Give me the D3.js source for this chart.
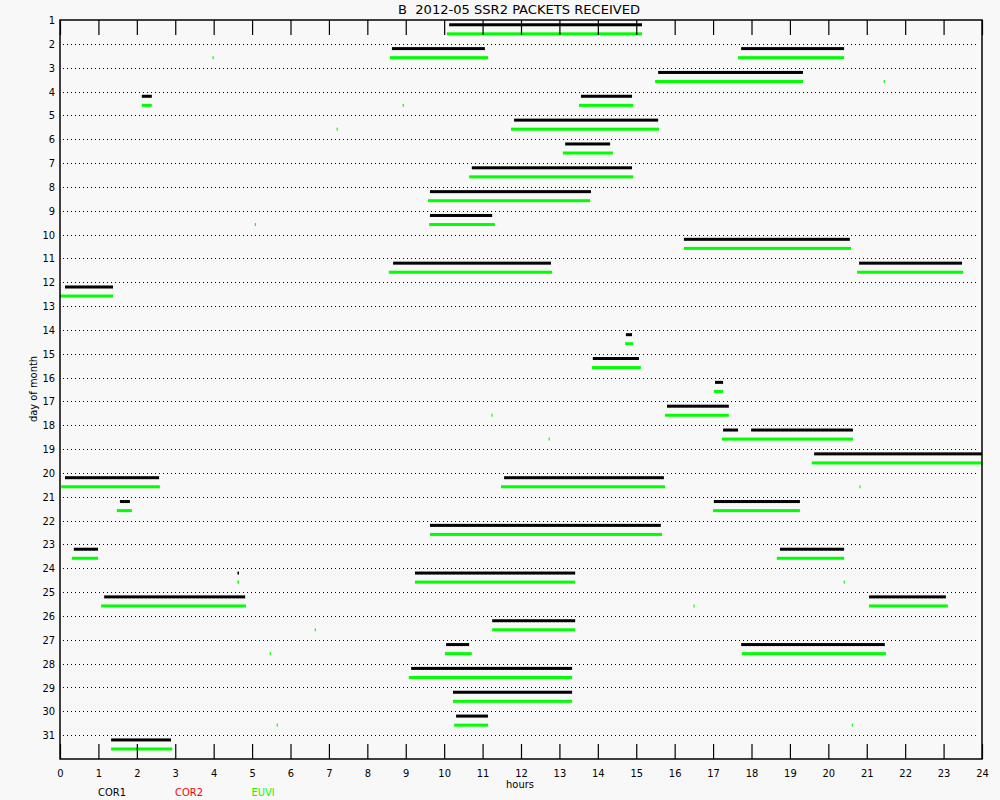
<!DOCTYPE html>
<html>
<head>
<meta charset="utf-8">
<script src="https://cdn.jsdelivr.net/npm/d3@7"></script>
<style>
  html, body { margin: 0; padding: 0; background: #f8f8f8; }
  svg { display: block; }
  text { font-family: "DejaVu Sans Condensed", "DejaVu Sans", sans-serif; fill: #000; }
</style>
</head>
<body>
<svg id="chart" width="1000" height="800"></svg>
<script>
// ---------------- data ----------------
const titleText = "B  2012-05 SSR2 PACKETS RECEIVED";
const dayLabels = d3.range(1, 32);            // 1..31
const hourLabels = d3.range(0, 25);           // 0..24
const instruments = ["COR1", "COR2", "EUVI"];
const instrumentColors = ["#000000", "#ff0000", "#00ff00"];

// [day, startHour, endHour]
const cor1 = [
  [1, 10.13, 15.15],
  [2, 8.64, 11.06], [2, 17.73, 20.41],
  [3, 15.57, 19.34],
  [4, 2.13, 2.39], [4, 13.56, 14.89],
  [5, 11.82, 15.57],
  [6, 13.15, 14.32],
  [7, 10.72, 14.89],
  [8, 9.63, 13.82],
  [9, 9.63, 11.25],
  [10, 16.24, 20.56],
  [11, 8.67, 12.78], [11, 20.80, 23.48],
  [12, 0.13, 1.38],
  [14, 14.73, 14.89],
  [15, 13.87, 15.07],
  [16, 17.05, 17.26],
  [17, 15.80, 17.41],
  [18, 17.26, 17.65], [18, 17.99, 20.64],
  [19, 19.63, 24.0],
  [20, 0.13, 2.58], [20, 11.56, 15.72],
  [21, 1.56, 1.82], [21, 17.02, 19.26],
  [22, 9.63, 15.64],
  [23, 0.36, 0.99], [23, 18.74, 20.41],
  [24, 9.24, 13.41], [24, 4.62, 4.66],
  [25, 1.15, 4.82], [25, 21.06, 23.06],
  [26, 11.25, 13.41],
  [27, 10.05, 10.65], [27, 17.73, 21.47],
  [28, 9.14, 13.33],
  [29, 10.23, 13.33],
  [30, 10.31, 11.14],
  [31, 1.33, 2.89]
];
const cor2 = [];
const euvi = [
  [1, 10.07, 15.15],
  [2, 8.59, 11.14], [2, 17.65, 20.41], [2, 3.97, 4.00],
  [3, 15.49, 19.34], [3, 21.44, 21.47],
  [4, 2.13, 2.39], [4, 13.51, 14.92], [4, 8.92, 8.95],
  [5, 11.74, 15.59], [5, 7.20, 7.23],
  [6, 13.09, 14.39],
  [7, 10.65, 14.92],
  [8, 9.58, 13.80],
  [9, 9.61, 11.32], [9, 5.07, 5.10],
  [10, 16.24, 20.59],
  [11, 8.56, 12.81], [11, 20.75, 23.51],
  [12, 0.0, 1.38],
  [14, 14.71, 14.92],
  [15, 13.85, 15.12],
  [16, 17.02, 17.26],
  [17, 15.75, 17.41], [17, 11.23, 11.26],
  [18, 17.23, 20.64], [18, 12.72, 12.75],
  [19, 19.57, 24.0],
  [20, 0.03, 2.60], [20, 11.48, 15.75], [20, 20.81, 20.84],
  [21, 1.48, 1.87], [21, 17.00, 19.26],
  [22, 9.63, 15.67],
  [23, 0.31, 0.99], [23, 18.66, 20.41],
  [24, 9.24, 13.41], [24, 4.62, 4.66], [24, 20.40, 20.43],
  [25, 1.07, 4.84], [25, 21.06, 23.11], [25, 16.49, 16.52],
  [26, 11.25, 13.41], [26, 6.63, 6.66],
  [27, 10.02, 10.72], [27, 17.75, 21.50], [27, 5.46, 5.49],
  [28, 9.08, 13.33],
  [29, 10.23, 13.33],
  [30, 10.26, 11.14], [30, 5.64, 5.67], [30, 20.61, 20.64],
  [31, 1.33, 2.92]
];
const seriesData = [cor1, cor2, euvi];
const rowOffsets = [0.2, 0.39, 0.58];  // fraction of a day row for each instrument

// ---------------- chart ----------------
(function () {
const svg = d3.select("#chart");
const W = 1000, H = 800;
const pL = 60, pR = 982, pT = 20, pB = 759;

svg.append("rect").attr("width", W).attr("height", H).attr("fill", "#f8f8f8");

const x = d3.scaleLinear().domain([0, 24]).range([pL, pR]);
const y = d3.scaleLinear().domain([1, 32]).range([pT, pB]);

// dotted gridlines (day 2..31)
svg.append("g").selectAll("line")
  .data(dayLabels.filter(d => d > 1))
  .join("line")
  .attr("x1", pL + 3).attr("x2", pR - 3)
  .attr("y1", d => Math.round(y(d)) + 0.5).attr("y2", d => Math.round(y(d)) + 0.5)
  .attr("stroke", "#000").attr("stroke-width", 1)
  .attr("stroke-dasharray", "1,3");

// bars
seriesData.forEach((data, i) => {
  svg.append("g").selectAll("rect")
    .data(data)
    .join("rect")
    .attr("x", d => x(d[1]))
    .attr("width", d => Math.max(1, x(d[2]) - x(d[1])))
    .attr("y", d => y(d[0] + rowOffsets[i]) - 1.5)
    .attr("height", 3)
    .attr("fill", instrumentColors[i]);
});

// bottom axis (ticks inward)
const xAxisB = d3.axisBottom(x).tickValues(hourLabels).tickSize(-15).tickPadding(20).tickFormat(d3.format("d"));
const gB = svg.append("g").attr("transform", `translate(0,${pB})`).call(xAxisB);
gB.select(".domain").remove();
gB.selectAll("line").attr("stroke", "#000").attr("stroke-width", 1.2);
gB.selectAll("text").attr("font-size", 11).attr("dy", "-0.2em");

// top axis (ticks inward, no labels)
const xAxisT = d3.axisTop(x).tickValues(hourLabels).tickSize(-15).tickFormat("");
const gT = svg.append("g").attr("transform", `translate(0,${pT})`).call(xAxisT);
gT.select(".domain").remove();
gT.selectAll("line").attr("stroke", "#000").attr("stroke-width", 1.2);

// left axis labels
const yAxis = d3.axisLeft(y).tickValues(dayLabels).tickSize(0).tickPadding(5).tickFormat(d3.format("d"));
const gL = svg.append("g").attr("transform", `translate(${pL},0)`).call(yAxis);
gL.select(".domain").remove();
gL.selectAll("text").attr("font-size", 11);

// frame
svg.append("rect")
  .attr("x", pL).attr("y", pT)
  .attr("width", pR - pL).attr("height", pB - pT)
  .attr("fill", "none").attr("stroke", "#000").attr("stroke-width", 1.5);

// title
svg.append("text")
  .attr("x", 519).attr("y", 14)
  .attr("text-anchor", "middle")
  .attr("font-size", 12)
  .attr("textLength", 242).attr("lengthAdjust", "spacingAndGlyphs")
  .style("white-space", "pre")
  .text(titleText);

// axis titles
svg.append("text")
  .attr("x", 520).attr("y", 788)
  .attr("text-anchor", "middle").attr("font-size", 11)
  .text("hours");
svg.append("text")
  .attr("transform", "translate(37,389) rotate(-90)")
  .attr("text-anchor", "middle").attr("font-size", 11)
  .text("day of month");

// legend
const legendX = [112, 189, 263];
svg.append("g").selectAll("text")
  .data(instruments)
  .join("text")
  .attr("x", (d, i) => legendX[i]).attr("y", 796)
  .attr("text-anchor", "middle").attr("font-size", 11)
  .style("fill", (d, i) => instrumentColors[i])
  .text(d => d);
})();
</script>
</body>
</html>
